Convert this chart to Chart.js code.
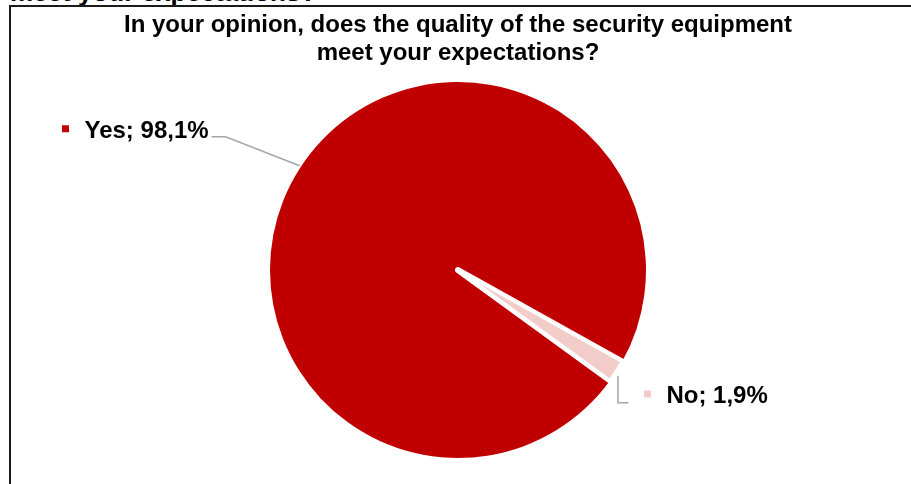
<!DOCTYPE html>
<html>
<head>
<meta charset="utf-8">
<script src="https://cdn.jsdelivr.net/npm/chart.js@4.4.1/dist/chart.umd.min.js"></script>
<style>
  html, body { margin: 0; padding: 0; background: #fff; overflow: hidden; }
  body { width: 911px; height: 484px; position: relative; font-family: Arial, "Liberation Sans", sans-serif; }
  #frame { position: absolute; left: 9px; top: 5px; width: 1000px; height: 1000px;
           border-left: 2px solid #1a1a1a; border-top: 2px solid #1a1a1a; }
  #cut { position: absolute; left: 10px; top: -23.5px; font-size: 26px; line-height: 30px;
         font-weight: bold; color: #000; white-space: nowrap; }
  #chart { position: absolute; left: 0; top: 0; }
</style>
</head>
<body>
<div id="cut">meet your expectations?</div>
<div id="frame"></div>
<canvas id="chart" width="911" height="484"></canvas>
<script>
const titleLines = ['In your opinion, does the quality of the security equipment', 'meet your expectations?']
const categories = ['Yes', 'No']
const shares = [98.1, 1.9]
const sliceColors = ['#C00000', '#F2CCC9']

const FONT = 'Arial, "Liberation Sans", sans-serif'

function labelText(i){
    return categories[i] + '; ' + shares[i].toFixed(1).replace('.', ',') + '%'
}

// the small slice gets a wide white border (cuts into its neighbour),
// then is filled again on top so it keeps almost its full width
const refillSlices = {
    id: 'refillSlices',
    afterDatasetsDraw(chart){
        const ctx = chart.ctx
        chart.getDatasetMeta(0).data.forEach(arc => {
            if (!arc.options.borderWidth) return
            const copy = Object.create(arc)
            copy.options = Object.assign({}, arc.options, { borderWidth: 1.5, borderAlign: 'inner' })
            copy.draw(ctx)
        })
    }
}

// leader lines + labels, anchored on the slice edges
const sliceLabels = {
    id: 'sliceLabels',
    afterDatasetsDraw(chart){
        const ctx = chart.ctx
        const meta = chart.getDatasetMeta(0)
        meta.data.forEach((arc, i) => {
            const p = arc.getProps(['x', 'y', 'startAngle', 'endAngle', 'outerRadius'], true)
            const mid = (p.startAngle + p.endAngle) / 2
            const r = p.outerRadius
            const ax = p.x + Math.cos(mid) * r
            const ay = p.y + Math.sin(mid) * r
            const text = labelText(i)

            ctx.save()
            ctx.font = 'bold 24px ' + FONT
            const w = ctx.measureText(text).width
            ctx.strokeStyle = '#A6A6A6'
            ctx.lineWidth = 1.5
            ctx.beginPath()
            let tx, ty
            if (Math.cos(mid) < 0){
                ctx.moveTo(ax, ay - 3)
                ctx.lineTo(ax - 74, ay - 32)
                ctx.lineTo(ax - 88, ay - 32)
                tx = ax - 91 - w
                ty = ay - 31
            } else {
                ctx.moveTo(ax + 1.5, ay + 4.5)
                ctx.lineTo(ax + 1.5, ay + 31.5)
                ctx.lineTo(ax + 12, ay + 31.5)
                tx = ax + 50
                ty = ay + 31.8
            }
            ctx.stroke()

            ctx.fillStyle = sliceColors[i]
            ctx.fillRect(tx - 22.5, ty - 12.5, 7, 7)
            ctx.fillStyle = '#000'
            ctx.textBaseline = 'alphabetic'
            ctx.textAlign = 'left'
            ctx.fillText(text, tx, ty)
            ctx.restore()
        })
    }
}

const chart = new Chart(document.getElementById('chart').getContext('2d'), {
    type: 'pie',
    data: {
        labels: categories,
        datasets: [{
            data: shares,
            backgroundColor: sliceColors,
            borderColor: '#ffffff',
            borderWidth: [0, 6],
            borderJoinStyle: 'round',
        }]
    },
    options: {
        responsive: false,
        animation: false,
        rotation: 126,
        radius: 188,
        layout: { padding: { left: 5, right: 0, top: 0, bottom: 11 } },
        plugins: {
            legend: { display: false },
            tooltip: { enabled: false },
            title: {
                display: true,
                text: titleLines,
                color: '#000',
                font: { family: FONT, size: 24, weight: 'bold', lineHeight: 28 / 24 },
                padding: { top: 11, bottom: 0 }
            }
        }
    },
    plugins: [refillSlices, sliceLabels]
})
</script>
</body>
</html>
